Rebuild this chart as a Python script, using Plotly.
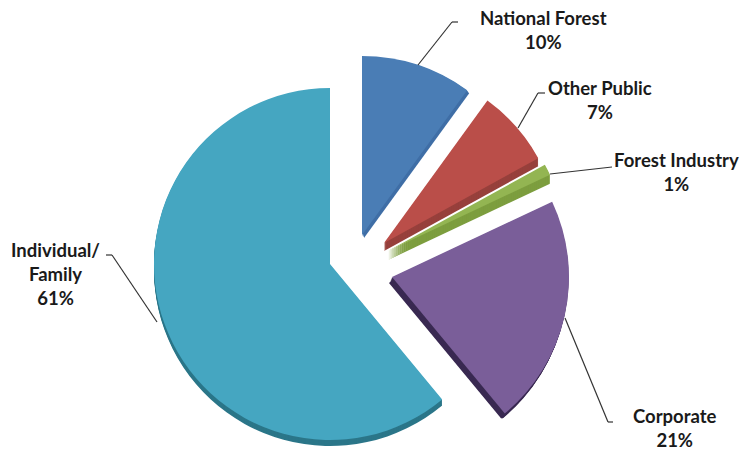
import plotly.graph_objects as go

categories = ["National Forest", "Other Public", "Forest Industry", "Corporate", "Individual/<br>Family"]
values = [10, 7, 1, 21, 61]
colors = ["#4A7DB5", "#BA4E49", "#93B552", "#7A5E99", "#45A6C1"]
dark = ["#3F6EA6", "#97403C", "#7D9E3F", "#3A2A52", "#2B7689"]

W, H = 748, 451
PAGE = 8  # the page's own margin around the figure
TRANSPARENT = "rgba(0,0,0,0)"

# pixel position of each slice's tip, its radius, and the offset of its side wall
centres = [(362, 235), (384, 243), (388, 251), (392, 277), (330, 264)]
radii = [179, 176, 179, 177, 176]
walls = [(2, 3), (0, 8), (0, 9), (-3, 7), (0, 6)]


def dom(cx, cy, r):
    cx -= PAGE
    cy -= PAGE
    return dict(x=[max(0, (cx - r) / W), min(1, (cx + r) / W)],
                y=[max(0, 1 - (cy + r) / H), min(1, 1 - (cy - r) / H)])


fig = go.Figure()


def add(i, cx, cy, r, palette):
    cols = [palette[j] if j == i else TRANSPARENT for j in range(len(values))]
    fig.add_trace(go.Pie(labels=categories, values=values, sort=False, direction="clockwise",
                         rotation=0, textinfo="none", showlegend=False, hoverinfo="label+percent",
                         marker=dict(colors=cols, line=dict(width=0)),
                         domain=dom(cx, cy, r)))


# side walls: the slice repeated in a darker shade, stepped along its offset
for i, (cx, cy) in enumerate(centres):
    dx, dy = walls[i]
    steps = max(abs(dx), abs(dy))
    for s in range(steps, 0, -1):
        add(i, cx + dx * s / steps, cy + dy * s / steps, radii[i], dark)
for i, (cx, cy) in enumerate(centres):
    add(i, cx, cy, radii[i], colors)

label_pos = [(543, 30), (600, 100), (676, 172), (675, 428), (55, 274)]
leaders = [[(458, 22), (452, 22), (418, 65)],
           [(545, 93), (538, 93), (518, 128)],
           [(612, 167), (550, 174)],
           [(613, 422), (608, 422), (565, 318)],
           [(106, 255), (112, 255), (157, 322)]]

annotations = [dict(x=(x - PAGE) / W, y=1 - (y - PAGE) / H, xref="paper", yref="paper", showarrow=False,
                    xanchor="center", yanchor="middle",
                    text=f"<b>{c}<br>{v}%</b>", align="center",
                    font=dict(family="Lato", size=18.5, color="#1a1a1a"))
               for (x, y), c, v in zip(label_pos, categories, values)]

shapes = []
for pts in leaders:
    for (x0, y0), (x1, y1) in zip(pts, pts[1:]):
        shapes.append(dict(type="line", xref="paper", yref="paper",
                           x0=(x0 - PAGE) / W, y0=1 - (y0 - PAGE) / H,
                           x1=(x1 - PAGE) / W, y1=1 - (y1 - PAGE) / H,
                           line=dict(color="#333333", width=1.2)))

fig.update_layout(width=W, height=H, margin=dict(l=0, r=0, t=0, b=0), paper_bgcolor="white",
                  annotations=annotations, shapes=shapes, showlegend=False)
fig.write_html("out.html", default_width=f"{W}px", default_height=f"{H}px")
